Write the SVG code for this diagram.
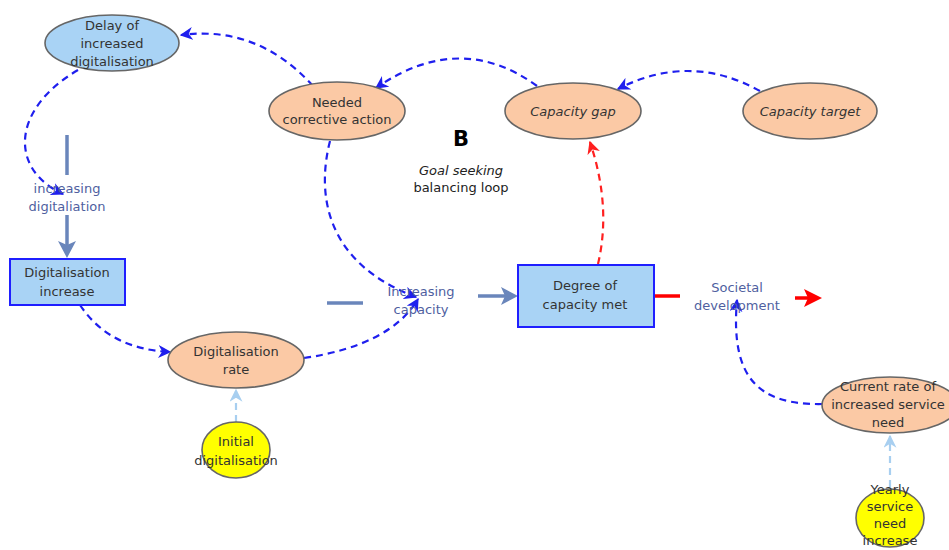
<svg xmlns="http://www.w3.org/2000/svg" width="949" height="550" viewBox="0 0 949 550">
  <style>
    text { font-family: "Comic Sans MS", "DejaVu Sans", sans-serif; font-size: 13px; fill: #333; text-anchor: middle; }
    .flowlbl { fill: #4f5f9f; }
    .it { font-style: italic; }
    .aux-peach { fill: #fbc9a5; stroke: #666; stroke-width: 1.6; }
    .aux-blue { fill: #a9d3f5; stroke: #666; stroke-width: 1.6; }
    .const { fill: #ffff00; stroke: #666; stroke-width: 1.6; }
    .stock { fill: #a9d3f5; stroke: #1f1fff; stroke-width: 2; }
    .link { fill: none; stroke: #1f1fee; stroke-width: 2.2; stroke-dasharray: 7 5; marker-end: url(#ah-blue); }
    .link-red { fill: none; stroke: #ff2020; stroke-width: 2.2; stroke-dasharray: 7 5; marker-end: url(#ah-red); }
    .link-light { fill: none; stroke: #a8cff0; stroke-width: 2.2; stroke-dasharray: 7 5; marker-end: url(#ah-light); }
    .pipe { stroke: #6a86bb; stroke-width: 3.5; fill: none; }
    .pipe-red { stroke: #ff0000; stroke-width: 3.5; fill: none; }
  </style>
  <defs>
    <marker id="ah-blue" viewBox="0 0 10 10" refX="9" refY="5" markerWidth="13" markerHeight="13" markerUnits="userSpaceOnUse" orient="auto">
      <path d="M0,0 L10,5 L0,10 L3,5 z" fill="#1f1fee"/>
    </marker>
    <marker id="ah-red" viewBox="0 0 10 10" refX="9" refY="5" markerWidth="13" markerHeight="13" markerUnits="userSpaceOnUse" orient="auto">
      <path d="M0,0 L10,5 L0,10 L3,5 z" fill="#ff2020"/>
    </marker>
    <marker id="ah-light" viewBox="0 0 10 10" refX="9" refY="5" markerWidth="13" markerHeight="13" markerUnits="userSpaceOnUse" orient="auto">
      <path d="M0,0 L10,5 L0,10 L3,5 z" fill="#a8cff0"/>
    </marker>
  </defs>

  <rect width="949" height="550" fill="#ffffff"/>

  <!-- flows (pipes) -->
  <g id="flows">
    <line class="pipe" x1="67" y1="135" x2="67" y2="175"/>
    <line class="pipe" x1="67" y1="215" x2="67" y2="246"/>
    <path d="M58,241 L67,258 L76,241 L67,245 z" fill="#6a86bb"/>
    <line class="pipe" x1="327" y1="303" x2="363" y2="303"/>
    <line class="pipe" x1="478" y1="296" x2="506" y2="296"/>
    <path d="M501,287 L518,296 L501,305 L505,296 z" fill="#6a86bb"/>
    <line class="pipe-red" x1="654" y1="296" x2="680" y2="296"/>
    <line class="pipe-red" x1="795" y1="298" x2="810" y2="298"/>
    <path d="M804,289 L822,298 L804,307 L808,298 z" fill="#ff0000"/>
  </g>

  <!-- influence links -->
  <g id="connectors">
    <path class="link" d="M760,91 Q690,52 618,89"/>
    <path class="link" d="M537,86 Q460,30 376,88"/>
    <path class="link" d="M313,86 Q258,25 181,35"/>
    <path class="link" d="M78,70 C10,110 10,170 63,194"/>
    <path class="link" d="M80,305 C100,335 130,350 170,352"/>
    <path class="link" d="M304,358 C360,350 400,330 418,299"/>
    <path class="link" d="M330,141 C315,200 330,265 416,297"/>
    <path class="link-red" d="M598,264 C606,230 606,190 590,142"/>
    <path class="link" d="M822,404 C760,405 730,380 737,300"/>
    <path class="link-light" d="M236,422 L236,390"/>
    <path class="link-light" d="M890,487 L890,436"/>
  </g>

  <g id="delay">
    <ellipse class="aux-blue" cx="112" cy="43" rx="67" ry="28"/>
    <text x="112" y="30">Delay of</text>
    <text x="112" y="48">increased</text>
    <text x="112" y="66">digitalisation</text>
  </g>

  <g id="needed">
    <ellipse class="aux-peach" cx="337" cy="111" rx="68" ry="29"/>
    <text x="337" y="107">Needed</text>
    <text x="337" y="124">corrective action</text>
  </g>

  <g id="gap">
    <ellipse class="aux-peach" cx="573" cy="111" rx="68" ry="28"/>
    <text class="it" x="573" y="116">Capacity gap</text>
  </g>

  <g id="target">
    <ellipse class="aux-peach" cx="810" cy="111" rx="67" ry="28"/>
    <text class="it" x="810" y="116">Capacity target</text>
  </g>

  <g id="loop">
    <text x="461" y="146" style="font-size:21px;font-weight:bold;fill:#000">B</text>
    <text class="it" x="461" y="175" style="fill:#222">Goal seeking</text>
    <text x="461" y="192" style="fill:#222">balancing loop</text>
  </g>

  <g id="incr-digitaliation">
    <text class="flowlbl" x="67" y="193">increasing</text>
    <text class="flowlbl" x="67" y="211">digitaliation</text>
  </g>

  <g id="dig-increase">
    <rect class="stock" x="10" y="259" width="115" height="46"/>
    <text x="67" y="277">Digitalisation</text>
    <text x="67" y="296">increase</text>
  </g>

  <g id="dig-rate">
    <ellipse class="aux-peach" cx="236" cy="360" rx="68" ry="28"/>
    <text x="236" y="356">Digitalisation</text>
    <text x="236" y="374">rate</text>
  </g>

  <g id="initial">
    <ellipse class="const" cx="236" cy="450" rx="34" ry="28"/>
    <text x="236" y="446">Initial</text>
    <text x="236" y="465">digitalisation</text>
  </g>

  <g id="incr-capacity">
    <text class="flowlbl" x="421" y="296">Increasing</text>
    <text class="flowlbl" x="421" y="314">capacity</text>
  </g>

  <g id="degree">
    <rect class="stock" x="518" y="265" width="136" height="62"/>
    <text x="585" y="290">Degree of</text>
    <text x="585" y="309">capacity met</text>
  </g>

  <g id="societal">
    <text class="flowlbl" x="737" y="292">Societal</text>
    <text class="flowlbl" x="737" y="310">development</text>
  </g>

  <g id="current-rate">
    <ellipse class="aux-peach" cx="890" cy="405" rx="68" ry="28"/>
    <text x="888" y="391">Current rate of</text>
    <text x="888" y="409">increased service</text>
    <text x="888" y="427">need</text>
  </g>

  <g id="yearly">
    <ellipse class="const" cx="890" cy="518" rx="34" ry="29"/>
    <text x="890" y="494">Yearly</text>
    <text x="890" y="511">service</text>
    <text x="890" y="528">need</text>
    <text x="890" y="545">increase</text>
  </g>
</svg>
